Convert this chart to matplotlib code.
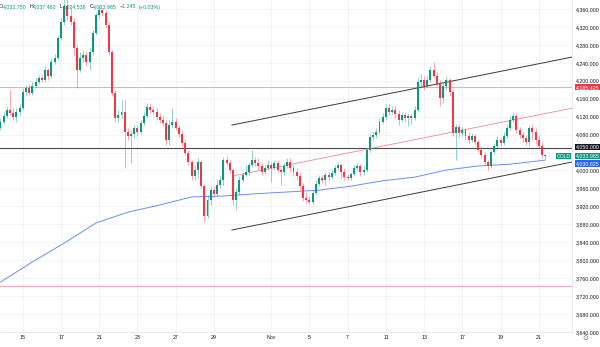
import matplotlib
matplotlib.use("Agg")
import matplotlib.pyplot as plt
import matplotlib.transforms as mtransforms

# ---------------- data (4H candles, XAU) ----------------
opens = [4095, 4108, 4121, 4135, 4128, 4119, 4130, 4139, 4175, 4184,
         4173, 4188, 4197, 4206, 4202, 4224, 4211, 4242, 4251, 4295,
         4331, 4367, 4344, 4331, 4273, 4224, 4251, 4257, 4242, 4264,
         4307, 4347, 4358, 4351, 4324, 4264, 4173, 4117, 4124, 4130,
         4086, 4077, 4081, 4095, 4086, 4106, 4121, 4142, 4135, 4130,
         4119, 4112, 4106, 4068, 4101, 4108, 4095, 4081, 4061, 4039,
         4019, 3988, 4001, 4019, 3965, 3898, 3934, 3956, 3948, 3968,
         3979, 4023, 4017, 4001, 3934, 3952, 3979, 3990, 3997, 4012,
         4023, 4017, 4010, 3997, 4006, 4012, 4006, 4017, 4001, 3997,
         4010, 4019, 4006, 3997, 3988, 3965, 3939, 3934, 3930, 3950,
         3970, 3983, 3979, 3990, 3985, 3994, 4006, 4012, 3997, 3985,
         3983, 3992, 4006, 4010, 3997, 4001, 4046, 4075, 4079, 4086,
         4108, 4119, 4139, 4130, 4135, 4126, 4112, 4124, 4117, 4121,
         4117, 4135, 4197, 4202, 4188, 4202, 4224, 4211, 4193, 4162,
         4188, 4202, 4175, 4084, 4097, 4084, 4090, 4077, 4068, 4077,
         4064, 4046, 4034, 4019, 4010, 4041, 4055, 4068, 4061, 4077,
         4095, 4112, 4121, 4090, 4079, 4072, 4064, 4095, 4086, 4068,
         4055, 4032.750]
highs = [4117, 4130, 4142, 4179, 4139, 4139, 4148, 4184, 4191, 4193,
         4197, 4206, 4213, 4213, 4233, 4228, 4251, 4260, 4302, 4340,
         4391, 4387, 4362, 4340, 4280, 4264, 4269, 4264, 4273, 4313,
         4353, 4369, 4362, 4358, 4331, 4269, 4179, 4135, 4157, 4157,
         4095, 4090, 4101, 4101, 4112, 4130, 4150, 4150, 4142, 4139,
         4128, 4121, 4112, 4112, 4139, 4117, 4101, 4090, 4068, 4046,
         4023, 4012, 4028, 4023, 3970, 3945, 3965, 3965, 3979, 3988,
         4030, 4032, 4023, 4006, 3961, 3988, 3997, 4012, 4019, 4046,
         4030, 4028, 4017, 4012, 4023, 4019, 4023, 4023, 4006, 4017,
         4028, 4028, 4012, 4006, 3997, 3972, 3952, 3943, 3956, 3979,
         3990, 3990, 3997, 3997, 4001, 4012, 4019, 4017, 4006, 3992,
         3997, 4012, 4017, 4014, 4010, 4050, 4081, 4086, 4095, 4117,
         4128, 4148, 4148, 4144, 4144, 4135, 4130, 4130, 4128, 4126,
         4144, 4206, 4215, 4211, 4211, 4233, 4242, 4220, 4202, 4195,
         4211, 4206, 4179, 4104, 4104, 4097, 4095, 4086, 4084, 4081,
         4068, 4055, 4041, 4023, 4046, 4061, 4077, 4072, 4086, 4104,
         4121, 4130, 4128, 4097, 4086, 4079, 4101, 4104, 4095, 4079,
         4064, 4037.460]
lows = [4090, 4104, 4117, 4124, 4112, 4108, 4124, 4135, 4166, 4168,
        4168, 4184, 4193, 4197, 4197, 4202, 4206, 4237, 4246, 4291,
        4324, 4335, 4324, 4257, 4184, 4220, 4242, 4233, 4224, 4257,
        4302, 4340, 4344, 4318, 4257, 4166, 4108, 4108, 4117, 4006,
        4068, 4017, 4072, 4077, 4081, 4101, 4117, 4128, 4124, 4112,
        4106, 4099, 4057, 4057, 4095, 4090, 4075, 4055, 4034, 4012,
        3979, 3979, 3983, 3961, 3885, 3894, 3923, 3941, 3943, 3961,
        3968, 4010, 3994, 3923, 3912, 3945, 3974, 3988, 3990, 4008,
        4010, 4001, 3990, 3992, 4001, 3974, 4001, 3997, 3968, 3990,
        4006, 3997, 3990, 3979, 3956, 3932, 3927, 3925, 3925, 3945,
        3965, 3972, 3968, 3979, 3981, 3990, 4001, 3983, 3979, 3979,
        3979, 3988, 4001, 3988, 3990, 3997, 4041, 4068, 4072, 4081,
        4104, 4112, 4124, 4126, 4117, 4101, 4108, 4108, 4099, 4104,
        4112, 4130, 4186, 4179, 4184, 4197, 4206, 4188, 4144, 4150,
        4179, 4166, 4077, 4023, 4075, 4077, 4068, 4059, 4064, 4057,
        4041, 4028, 4012, 4001, 4006, 4037, 4050, 4055, 4057, 4072,
        4090, 4108, 4084, 4072, 4064, 4057, 4055, 4068, 4059, 4050,
        4028, 4024.538]
closes = [4108, 4121, 4135, 4128, 4119, 4130, 4139, 4175, 4184, 4173,
          4188, 4197, 4206, 4202, 4224, 4211, 4242, 4251, 4295, 4331,
          4367, 4344, 4331, 4273, 4224, 4251, 4257, 4242, 4264, 4307,
          4347, 4358, 4351, 4324, 4264, 4173, 4117, 4124, 4130, 4086,
          4077, 4081, 4095, 4086, 4106, 4121, 4142, 4135, 4130, 4119,
          4112, 4106, 4068, 4101, 4108, 4095, 4081, 4061, 4039, 4019,
          3988, 4001, 4019, 3965, 3898, 3934, 3956, 3948, 3968, 3979,
          4023, 4017, 4001, 3934, 3952, 3979, 3990, 3997, 4012, 4023,
          4017, 4010, 3997, 4006, 4012, 4006, 4017, 4001, 3997, 4010,
          4019, 4006, 3997, 3988, 3965, 3939, 3934, 3930, 3950, 3970,
          3983, 3979, 3990, 3985, 3994, 4006, 4012, 3997, 3985, 3983,
          3992, 4006, 4010, 3997, 4001, 4046, 4075, 4079, 4086, 4108,
          4119, 4139, 4130, 4135, 4126, 4112, 4124, 4117, 4121, 4117,
          4135, 4197, 4202, 4188, 4202, 4224, 4211, 4193, 4162, 4188,
          4202, 4175, 4084, 4097, 4084, 4090, 4077, 4068, 4077, 4064,
          4046, 4034, 4019, 4010, 4041, 4055, 4068, 4061, 4077, 4095,
          4112, 4121, 4090, 4079, 4072, 4064, 4095, 4086, 4068, 4055,
          4034, 4033.985]

# moving average read at sampled bars
ma_bar = [0, 10, 20, 30, 40, 50, 60, 70, 80, 90, 100, 110, 120, 130, 140, 150, 160, 171]
ma_value = [3751, 3796, 3838, 3883, 3907, 3923, 3941, 3943, 3948, 3952, 3956,
            3965, 3977, 3985, 4001, 4010, 4014, 4023]
ma_last = 4030.825

# day labels on time axis (bar index of first bar of the day)
day_bar = [7, 19, 31, 43, 55, 67, 85, 97, 109, 121, 133, 145, 157, 169]
day_label = ["15", "17", "21", "23", "27", "29", "Nov", "5", "7", "11", "13", "17", "19", "21"]

price_ticks = [3640, 3680, 3720, 3760, 3800, 3840, 3880, 3920, 3960, 4000,
               4040, 4080, 4120, 4160, 4200, 4240, 4280, 4320, 4360]
hidden_tick = 4040   # covered by price-scale labels

# drawn levels and channel (anchor bars / prices)
level_resist = 4185.425
level_pivot = 4050.0
level_support = 3742.0
channel_bars = [72.5, 179.6]
channel_upper = [4101, 4253]
channel_middle = [3987, 4139]
channel_lower = [3867, 4019]

symbol = "GOLD"
header_o, header_h, header_l, header_c = 4032.750, 4037.460, 4024.538, 4033.985
header_chg, header_pct = 1.245, 0.03

# ---------------- style ----------------
UP = "#089981"
DN = "#f23645"
TXT = "#131722"
GRID = "#f0f3fa"
FONT = ["Liberation Sans", "DejaVu Sans"]
FS = 3.8

plt.rcParams["font.family"] = FONT

W, H = 600, 347
fig = plt.figure(figsize=(W / 100, H / 100), dpi=100)
fig.patch.set_facecolor("white")
plot_right_px = 572
plot_bottom_px = 332
ax = fig.add_axes([0, (H - plot_bottom_px) / H, plot_right_px / W, plot_bottom_px / H])

px_per_bar = 3.185
ax.set_xlim(-0.15, plot_right_px / px_per_bar - 0.15)
y_top = 4380.07
y_bot = y_top - 2.2297 * plot_bottom_px
ax.set_ylim(y_bot, y_top)

# grid
ax.set_xticks(day_bar)
ax.set_yticks(price_ticks)
ax.grid(True, color=GRID, lw=0.6, zorder=0)
ax.set_axisbelow(True)

for s in ["top", "left"]:
    ax.spines[s].set_visible(False)
for s in ["bottom", "right"]:
    ax.spines[s].set_color("#e0e3eb")
    ax.spines[s].set_linewidth(0.5)

# horizontal levels
ax.axhline(level_resist, color="#f7a9b0", lw=0.8, zorder=1)
ax.axhline(level_support, color="#f7a9b0", lw=0.8, zorder=1)
ax.axhline(level_pivot, color="#4a4a4a", lw=0.8, zorder=1)

# moving average
ax.plot(ma_bar, ma_value, color="#6f8ff0", lw=0.7, zorder=2)

# channel
ax.plot(channel_bars, channel_upper, color="#3a3a3a", lw=0.7, zorder=2, solid_capstyle="butt")
ax.plot(channel_bars, channel_lower, color="#3a3a3a", lw=0.7, zorder=2, solid_capstyle="butt")
ax.plot(channel_bars, channel_middle, color="#f08a93", lw=0.6, zorder=2, solid_capstyle="butt")

# candles
n = len(closes)
for i in range(n):
    o, h, l, c = opens[i], highs[i], lows[i], closes[i]
    col = UP if c >= o else DN
    ax.vlines(i, l, h, color=col, lw=0.55, alpha=0.55, zorder=3)
    body = c - o
    if abs(body) < 1.2:
        body = 1.2 if body >= 0 else -1.2
    ax.bar(i, body, bottom=o, width=0.62, color=col, lw=0, zorder=4)

# axis labels
ax.yaxis.tick_right()
ax.tick_params(axis="y", length=0, pad=3, labelsize=FS, labelcolor=TXT)
ax.set_yticklabels(["" if v == hidden_tick else f"{v:,.3f}" for v in price_ticks])
ax.tick_params(axis="x", length=0, pad=2.5, labelsize=FS, labelcolor=TXT)
ax.set_xticklabels(day_label)

# price labels on scale
blend = mtransforms.blended_transform_factory(ax.transAxes, ax.transData)

def scale_label(val, color, dy_px=0):
    ax.annotate(f"{val:,.3f}", xy=(1.0, val), xycoords=blend,
                xytext=(3.5, dy_px), textcoords="offset pixels",
                ha="left", va="center", fontsize=FS, color="white",
                bbox=dict(boxstyle="square,pad=0.12", fc=color, ec="none"),
                annotation_clip=False, zorder=10)

scale_label(level_resist, DN)
scale_label(level_pivot, TXT, dy_px=1)
scale_label(header_c, UP, dy_px=-1)
scale_label(ma_last, "#2962ff", dy_px=-7)

ax.annotate(symbol, xy=(1.0, header_c), xycoords=blend, xytext=(-1.5, -1),
            textcoords="offset pixels", ha="right", va="center", fontsize=FS - 0.2,
            color="white", bbox=dict(boxstyle="square,pad=0.15", fc=UP, ec="none"),
            annotation_clip=False, zorder=10)

# header OHLC
hdr_y = 1 - 7 / H
parts = [("O", TXT, 0), (f"{header_o:,.3f}", UP, 3), ("H", TXT, 0), (f"{header_h:,.3f}", UP, 3),
         ("L", TXT, 0), (f"{header_l:,.3f}", UP, 3), ("C", TXT, 0), (f"{header_c:,.3f}", UP, 3),
         (f"+{header_chg:.3f}", UP, 2.5), (f"(+{header_pct:.2f}%)", UP, 0)]
fig.canvas.draw()
renderer = fig.canvas.get_renderer()
xpos = -1.0
for txt, colr, gap in parts:
    t = fig.text(xpos / W, hdr_y, txt, fontsize=FS, color=colr, ha="left", va="center")
    bb = t.get_window_extent(renderer=renderer)
    xpos += bb.width + gap

# settings icon bottom right
fig.text(585 / W, 1 - 338 / H, "\u2299", fontsize=5, color="#6a6d78", ha="center", va="center",
         family=["DejaVu Sans"])

fig.savefig("out.png", dpi=100, facecolor="white")
